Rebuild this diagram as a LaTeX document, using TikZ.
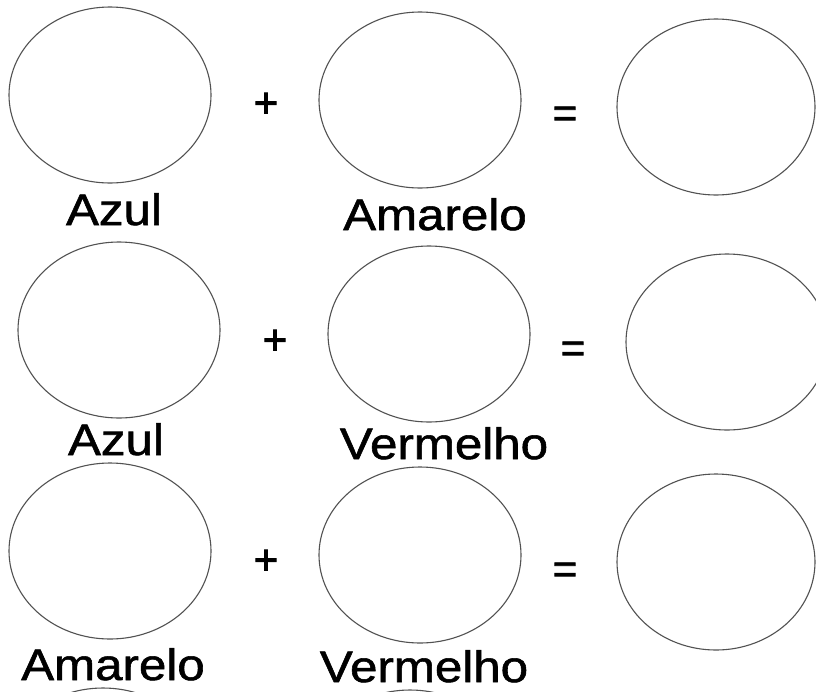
\documentclass[tikz,border=0pt]{standalone}
\usepackage{fontspec}
\setmainfont{Liberation Sans}
\usetikzlibrary{shapes.geometric}
\font\lblfont="Liberation Sans:embolden=1.2" at 44pt
\font\opfont="Liberation Sans:embolden=2" at 42pt
\begin{document}
\begin{tikzpicture}[x=1pt,y=-1pt,
  circ/.style={ellipse, draw=black!68, line width=1.1pt, minimum width=202pt, minimum height=176pt, inner sep=0pt},
  lbl/.style={anchor=base, inner sep=0pt, font=\lblfont, xscale=1.12, transform shape},
  op/.style={inner sep=0pt, font=\opfont}]
\useasboundingbox (0,0) rectangle (816,691);
\clip (0,0) rectangle (816,691);
\fill[white] (0,0) rectangle (816,691);
% row 1
\node[circ] (a1) at (110,95) {};
\node[circ] (b1) at (420,100) {};
\node[circ, minimum width=198pt] (c1) at (716,107) {};
\node[op] (p1) at (266,105) {+};
\node[op] (e1) at (565,117) {=};
\node[lbl] (ta1) at (114,225) {Azul};
\node[lbl] (tb1) at (435,230) {Amarelo};
% row 2
\node[circ] (a2) at (119,330) {};
\node[circ] (b2) at (429,334) {};
\node[circ] (c2) at (727,342) {};
\node[op] (p2) at (275,342) {+};
\node[op] (e2) at (573,352) {=};
\node[lbl] (ta2) at (116,455) {Azul};
\node[lbl] (tb2) at (444,459) {Vermelho};
% row 3
\node[circ] (a3) at (110,551) {};
\node[circ] (b3) at (420,555) {};
\node[circ, minimum width=198pt] (c3) at (716,562) {};
\node[op] (p3) at (266,562) {+};
\node[op] (e3) at (565,573) {=};
\node[lbl] (ta3) at (113,680) {Amarelo};
\node[lbl] (tb3) at (424,682) {Vermelho};
% next row (cut off)
\node[circ] (a4) at (103,776) {};
\node[circ] (b4) at (410,778) {};
\end{tikzpicture}
\end{document}
